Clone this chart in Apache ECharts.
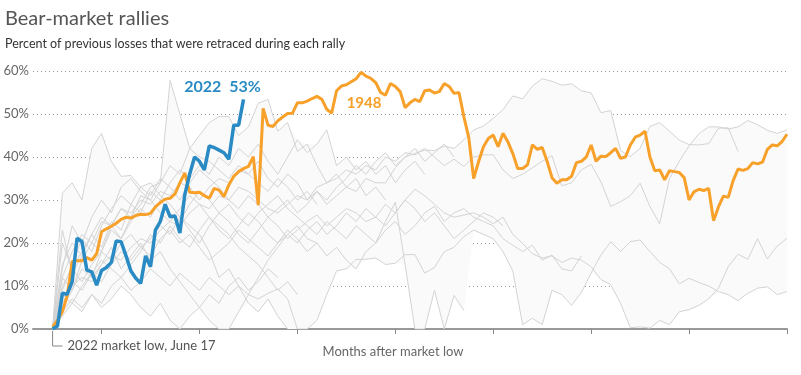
<!DOCTYPE html>
<html>
<head>
<meta charset="utf-8">
<title>Bear-market rallies</title>
<script src="https://cdn.jsdelivr.net/npm/echarts@6/dist/echarts.min.js"></script>
<style>
  html, body { margin: 0; padding: 0; background: #fff; }
  #chart { width: 801px; height: 375px; }
</style>
</head>
<body>
<div id="chart"></div>
<script>
// x unit = one observation of the highlighted rallies, other rallies are sampled every 2 units
const xTicks = [10, 30, 50, 70, 90, 110, 130, 150];
const grayStep = 2;

const rally2022 = [0, 0.7, 8.3, 8.1, 11, 21.1, 20.3, 13.7, 13.3, 10.2,
  13.6, 14.3, 15.5, 20.5, 20.3, 17, 13.5, 11.8, 10.6, 17,
  14.5, 23, 25, 29, 26.1, 26.3, 22.3, 31.2, 36, 40,
  39, 37, 42.6, 42.2, 41.6, 41, 39.5, 47.4, 47.4, 53.4];

const rally1948 = [0.5, 2, 4, 7.8, 15.7, 15.9, 15.9, 16.6, 16, 17.5,
  22.6, 23.3, 23.9, 24.6, 25.5, 26, 25.8, 26.4, 26.7, 26.6,
  26.9, 28.4, 29.4, 30.2, 30.4, 31.4, 34, 36.3, 31.8, 31.7,
  31.8, 31, 30.4, 32.7, 32.3, 30.8, 33.5, 35.5, 36.6, 37.3,
  37.8, 40.1, 28.8, 51.3, 47.4, 47.1, 48.4, 49.3, 50.1, 50.2,
  52.6, 52.6, 53, 53.6, 54.1, 53.4, 51.1, 50.2, 55.4, 56.5,
  56.8, 57.5, 58.2, 59.7, 58.8, 58.3, 57.3, 55, 54.4, 57.1,
  56.4, 55.2, 51.5, 52.6, 53.4, 52.9, 55.4, 55.6, 54.9, 55.2,
  57.1, 56.4, 54.8, 55, 49.4, 44.5, 35, 38.9, 42.4, 44.3,
  45.1, 42.4, 45.5, 43.5, 40.8, 37.3, 37.3, 38.2, 42.8, 41.8,
  42.2, 39, 35.2, 33.9, 34.7, 34.7, 35.5, 38.7, 39, 40,
  42.8, 39, 40.2, 40.1, 41, 42, 39.7, 40, 42.8, 44.6,
  45.1, 46, 40, 36.8, 37, 34.7, 36.8, 36.6, 36.4, 35.2,
  30, 31.9, 32.5, 32.2, 32.7, 25.2, 28.4, 30.9, 30.6, 34.5,
  37.2, 36.9, 37.3, 38.7, 38.4, 38.8, 41.8, 42.8, 42.6, 43.6,
  45.3];

// other rallies (gray)
const rallyA = [0, 12, 18, 22, 20, 25, 24, 28, 27, 30,
  29, 32, 31, 34, 33, 30, 33, 35, 34, 37,
  36, 39, 35, 33, 36, 34, 30, 32, 29, 31,
  33, 32, 35, 34, 34, 37.5, 40, 40.8, 41.6, 41.5,
  42.5, 42, 44, 46.3, 47.2, 49, 51, 54.2, 53.5, 56.5,
  58.2, 57.6, 56.7, 57, 55.4, 54.9, 50.3, 50.8, 41.5, 40.1,
  42, 47.1, 48, 46, 43.9, 42.9, 42.8, 43.1, 46.7, 46.8,
  41.3];
const rallyB = [0, 6, 10, 12, 11, 15, 17, 16, 19, 21,
  20, 23, 25, 24, 27, 29, 28, 31, 30, 33,
  32, 30, 28, 27, 29, 31, 30, 33, 34, 35,
  37, 36, 38, 37, 40, 39, 41, 40.5, 42, 40,
  38, 39.5, 37.8, 40, 40.5, 40.5, 37, 35, 36, 37.5,
  39, 40.3, 33.3, 34, 37, 38.3, 34.2, 28.5, 29.6, 31,
  33.9, 28.5, 24.5, 35, 39, 42.6, 45.4, 47, 47, 46.5,
  47, 48.5, 47.5, 46.2, 45.5, 46.3];
const rallyC = [0, 4, 7, 5, 8, 6, 10, 12, 9, 11,
  14, 12, 10, 13, 11, 9, 12, 10, 8, 10,
  8, 7, 8.3, 9.3, 7, 0, 0, 2, 8, 13.5,
  14, 16.2, 16.2, 16.5, 15, 15.3, 17.3, 17.3, 13, 14.3,
  18, 19, 21.5, 23, 22, 21, 18, 13.5, 1, 2.5,
  1, 9, 8, 5.5, 8.5, 13, 17.2, 20.3, 18, 20.3,
  20.7, 18, 15.5, 14, 10.5, 11.8, 10.8, 10, 8.7, 8,
  6.6, 8.3, 9.5, 9.8, 8, 8.7];
const rallyD = [0, 10, 14, 11, 15, 18, 16, 20, 22, 19,
  21, 24, 22, 26, 23, 20, 24, 27, 25, 22,
  20, 23, 26, 24, 21, 23, 25, 26.5, 24, 26,
  28, 27, 25, 26, 24, 27, 30, 32.5, 31, 29,
  27, 26, 26.5, 27, 26, 24.5, 26, 22, 19.9, 17.5,
  16.5, 17, 15.5, 16.5, 16, 14.5, 11.5, 10.3, 6, 0.3,
  0.5, 0.2, 2, 1, 4, 4.5, 5.5, 7, 9.5, 14.5,
  17.4, 16.2, 21, 16.3, 19.3, 21.1];
const rallyE = [0, 15, 20, 17, 22, 26, 24, 21, 25, 28,
  26, 30, 27, 25, 29, 32, 30, 27, 29, 26,
  24, 27, 29, 31, 28, 26, 24, 22, 25, 23,
  21, 24, 22, 20, 23, 25, 22, 24, 27, 28.5,
  25, 27, 28, 26, 25, 24, 21, 19.5, 18, 19.5,
  16, 17.2, 14, 13.5, 17];
const rallyF = [0, 8, 6, 10, 13, 11, 15, 18, 16, 19,
  17, 21, 23, 20, 22, 19, 16, 18, 20, 23,
  21, 19, 17, 20, 22, 24, 21, 20, 17, 19,
  16, 14, 18, 20, 25, 29.5, 15, 0, 0, 9,
  0, 7.8, 4.3];
const rallyG = [0, 31.6, 34, 30, 42, 45.5, 39, 35.5, 35.7, 33,
  34, 31, 29, 26, 24, 22, 18, 12, 14, 10,
  6, 4, 7, 3, 0];
const rallyH = [0, 5, 9, 14, 12, 18, 23, 21, 26, 29,
  33, 34, 57.8, 50, 42, 40, 39, 37, 35, 38,
  36, 34, 32, 35, 33, 30, 32, 29];
const rallyI = [0, 12, 9, 16, 20, 18, 24, 28, 26, 31,
  30, 34, 38, 36, 42, 45, 48, 49.4, 49.4, 45,
  47, 52.5, 53.4, 46, 48, 41.3, 43, 38, 34, 36,
  33, 35, 31, 33, 30];
const rallyJ = [0, 20, 14, 18, 22, 19, 25, 23, 29, 27,
  32, 30, 34, 37, 35, 38, 36, 40, 38, 42,
  40, 43, 39, 36, 40, 44, 41, 43, 46.3, 38,
  40, 37, 39, 36, 38, 34, 37, 39, 36];
const rallyK = [0, 3, 6, 4, 8, 5, 7, 10, 8, 5,
  3, 6, 2, 0, 3, 5, 8, 6, 10, 12,
  9, 11, 14, 12];
const rallyL = [0, 23, 13, 17, 12, 15, 19, 14, 17, 20,
  16, 18, 14, 11, 8, 5, 2, 0, 0, 4,
  8, 12, 16, 19, 22, 20, 23, 25, 22, 24,
  27, 25, 28, 26, 29, 27, 30, 28, 25, 27,
  24, 21, 23, 25, 27, 26, 24];
const rallyM = [0, 9, 15, 21, 18, 24, 28, 31, 29, 33,
  31, 35, 33, 30, 34, 37, 35, 33, 30, 28,
  31, 29, 26, 28, 30, 27, 29, 32, 30, 33,
  35, 38, 36, 39, 41, 38, 40, 42, 39, 41,
  43, 40];
const rallyN = [0, 7, 11, 9, 13, 16, 14, 12, 15, 18,
  22, 20, 24, 21, 19, 23, 26, 24, 22, 19,
  17, 15, 12, 9, 11, 8];
const rallyO = [0, 14, 24, 20, 26, 30, 27, 33, 35, 32,
  30, 27, 25, 28, 31, 29, 26, 23, 21, 24,
  27, 25, 22, 20, 23, 21, 18, 20];

const otherRallies = [rallyA, rallyB, rallyC, rallyD, rallyE, rallyF, rallyG, rallyH,
  rallyI, rallyJ, rallyK, rallyL, rallyM, rallyN, rallyO];

const BLUE = '#2a8bc4';
const ORANGE = '#f7a02a';
const FONT = 'Lato, "Open Sans", sans-serif';

// range (min..max) of the other rallies at each step
const bandHigh = [];
const bandLow = [];
const maxLen = Math.max(...otherRallies.map(r => r.length));
for (let k = 0; k < maxLen; k++) {
  const vals = otherRallies.filter(r => k < r.length).map(r => r[k]);
  bandHigh.push([k * grayStep, Math.max(...vals)]);
  bandLow.push([k * grayStep, Math.min(...vals)]);
}

const chart = echarts.init(document.getElementById('chart'));

const series = [{
  type: 'custom',
  silent: true,
  z: 1,
  data: [0],
  renderItem: function (params, api) {
    const pts = bandHigh.map(p => api.coord(p))
      .concat(bandLow.slice().reverse().map(p => api.coord(p)));
    return {type: 'polygon', shape: {points: pts}, style: {fill: '#fafafa'}};
  }
}];
otherRallies.forEach(r => {
  series.push({
    type: 'line',
    data: r.map((v, k) => [k * grayStep, v]),
    symbol: 'none',
    silent: true,
    lineStyle: {color: '#d3d3d3', width: 1},
    z: 2
  });
});

const peak1948 = 63;
series.push({
  type: 'line', name: '1948',
  data: rally1948.map((v, i) => [i, v]),
  symbol: 'none',
  lineStyle: {color: ORANGE, width: 3},
  z: 3,
  markPoint: {
    silent: true, symbol: 'circle', symbolSize: 0,
    data: [{coord: [peak1948, rally1948[peak1948]]}],
    label: {
      show: true, position: 'bottom', distance: 23, offset: [3, 0],
      formatter: '1948', color: ORANGE, fontSize: 15, fontWeight: 'bold', fontFamily: FONT
    }
  }
});

const last = rally2022.length - 1;
series.push({
  type: 'line', name: '2022',
  data: rally2022.map((v, i) => [i, v]),
  symbol: 'none',
  lineStyle: {color: BLUE, width: 3.5},
  z: 4,
  markPoint: {
    silent: true, symbol: 'circle', symbolSize: 0,
    data: [{coord: [last, rally2022[last]]}],
    label: {
      show: true, position: 'top', distance: 5, offset: [-21, 0],
      formatter: '2022  53%', color: BLUE, fontSize: 16, fontWeight: 'bold', fontFamily: FONT
    }
  }
});

chart.setOption({
  animation: false,
  textStyle: {fontFamily: FONT},
  title: {
    text: 'Bear-market rallies',
    subtext: 'Percent of previous losses that were retraced during each rally',
    left: 0, top: 4, itemGap: 8,
    textStyle: {fontSize: 20, fontWeight: 'normal', color: '#555', fontFamily: FONT},
    subtextStyle: {fontSize: 12.5, color: '#333', fontFamily: FONT}
  },
  grid: {left: 33, right: 14, top: 71, bottom: 46, containLabel: false},
  xAxis: {
    type: 'value', min: -4, max: 150,
    name: 'Months after market low', nameLocation: 'middle', nameGap: 16,
    nameTextStyle: {fontSize: 13, color: '#666', fontFamily: FONT, padding: [0, 34, 0, 0]},
    axisLine: {show: true, onZero: false, lineStyle: {color: '#999', width: 2}},
    axisTick: {show: true, customValues: xTicks, length: 5, lineStyle: {color: '#888', width: 1}},
    axisLabel: {show: false},
    splitLine: {show: false}
  },
  yAxis: {
    type: 'value', min: 0, max: 60, interval: 10,
    axisLine: {show: false}, axisTick: {show: false},
    axisLabel: {formatter: '{value}%', color: '#666', fontSize: 13, margin: 4, fontFamily: FONT},
    splitLine: {lineStyle: {color: '#999', type: [1, 3], width: 1}}
  },
  series: series
});

// market-low annotation
const p0 = chart.convertToPixel({gridIndex: 0}, [0, 0]);
chart.setOption({
  graphic: [
    {
      type: 'polyline', silent: true,
      shape: {points: [[p0[0], p0[1] + 2], [p0[0], p0[1] + 17], [p0[0] + 10, p0[1] + 17]]},
      style: {stroke: '#888', lineWidth: 1, fill: null}
    },
    {
      type: 'text', silent: true, x: p0[0] + 15, y: p0[1] + 17,
      style: {text: '2022 market low, June 17', fill: '#555', font: '13px ' + FONT, textVerticalAlign: 'middle'}
    }
  ]
});
</script>
</body>
</html>
